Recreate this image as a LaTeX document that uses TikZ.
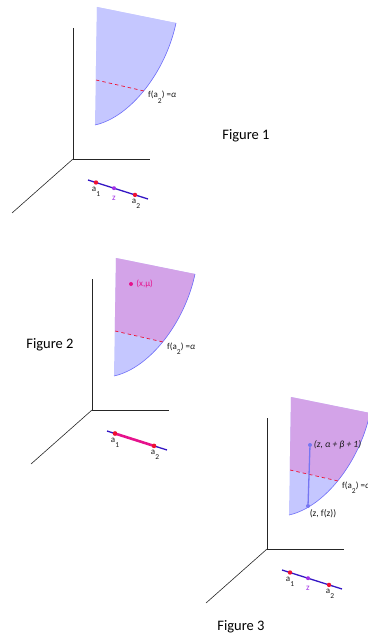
\documentclass[tikz,border=0pt]{standalone}
\usepackage{fontspec}
\setmainfont{Carlito}
\usetikzlibrary{positioning}
\definecolor{sheetblue}{HTML}{C5C7FF}
\definecolor{sheetpurple}{HTML}{D3A3E8}
\definecolor{edgeblue}{HTML}{6E6EF8}
\definecolor{lineindigo}{HTML}{3416C4}
\definecolor{dotred}{HTML}{EE1133}
\definecolor{zpurple}{HTML}{A12EE6}
\definecolor{mumagenta}{HTML}{E6128C}
\definecolor{stickblue}{HTML}{7676F2}
\newcommand{\lowsub}[1]{\raisebox{-1.2ex}{\fontsize{7.5}{8}\selectfont #1}}
\tikzset{
	axesframe/.pic={
			\coordinate (-o) at (0,0);
			\coordinate (-up) at (0,-131);
			\coordinate (-right) at (77,0);
			\coordinate (-diag) at (-61,54);
			\draw[axisline] (-up) -- (-o) -- (-right);
			\draw[axisline] (-o) -- (-diag);
		}
}
\tikzset{
	sheet/.pic={
			\fill[sheetblue] (24,-152) -- (103,-136) .. controls (93,-88) and (58,-42) .. (22,-34) -- cycle;
			\begin{scope}
				\clip (24,-152) -- (103,-136) .. controls (93,-88) and (58,-42) .. (22,-34) -- cycle;
				\fill[#1] (0,-170) -- (130,-170) -- (130,-55) -- (0,-84.3) -- cycle;
			\end{scope}
			\draw[edgeblue, line width=0.6pt] (103,-136) .. controls (93,-88) and (58,-42) .. (22,-34);
			\draw[levelline] (23,-79) -- (71,-68);
			\node[smalltext, anchor=base west] (-lab) at (75,-61) {f(a\lowsub{2}) =\textit{α}};
		}
}
\tikzset{
	axisline/.style={line width=0.6pt, black!85},
	levelline/.style={dashed, dash pattern=on 3.5pt off 3pt, dotred, line width=0.7pt},
	segline/.style={line width=1.3pt, lineindigo},
	reddot/.style={circle, fill=dotred, inner sep=0pt, minimum size=4.4pt},
	zdot/.style={circle, fill=zpurple, inner sep=0pt, minimum size=4pt},
	stickdot/.style={circle, fill=stickblue, inner sep=0pt, minimum size=4pt},
	smalltext/.style={font=\fontsize{9}{10}\selectfont, text=black!90, inner sep=0pt},
	figtext/.style={font=\fontsize{14.5}{16}\selectfont}
}

\begin{document}
\begin{tikzpicture}[x=1pt, y=-1pt]

	\useasboundingbox (0,0) rectangle (367,636);

	% figure 1
	\begin{scope}[shift={(73,159)}]
		\pic (axA) {axesframe};
		\pic (shA) {sheet={sheetblue}};
		\coordinate (sA) at (15,21);
		\coordinate (eA) at (75,40);
		\draw[segline] (sA) -- (eA);
		\node[reddot] (a1A) at (23,23.5) {};
		\node[zdot] (zA) at (41,29.2) {};
		\node[reddot] (a2A) at (62,35.9) {};
		\node[smalltext, below=1.8pt of a1A] (la1A) {a\lowsub{1}};
		\node[smalltext, below=5.5pt of zA, text=zpurple] (lzA) {z};
		\node[smalltext, below=1.8pt of a2A, xshift=1pt] (la2A) {a\lowsub{2}};
	\end{scope}

	% figure 2
	\begin{scope}[shift={(92,410)}]
		\pic (axB) {axesframe};
		\pic (shB) {sheet={sheetpurple}};
		\coordinate (sB) at (15,21);
		\coordinate (eB) at (75,40);
		\draw[segline] (sB) -- (eB);
		\node[reddot] (a1B) at (23,23.5) {};
		\node[reddot] (a2B) at (62,35.9) {};
		\draw[mumagenta, line width=2.6pt] (a1B.center) -- (a2B.center);
		\node[reddot] at (a1B) {};
		\node[reddot] at (a2B) {};
		\node[smalltext, below=1.8pt of a1B] (la1B) {a\lowsub{1}};
		\node[smalltext, below=1.8pt of a2B, xshift=1pt] (la2B) {a\lowsub{2}};
		\node[circle, fill=mumagenta, inner sep=0pt, minimum size=4pt] (ptB) at (39,-126) {};
		\node[smalltext, text=mumagenta, right=3pt of ptB] (lptB) {(x,μ)};
	\end{scope}

	% figure 3
	\begin{scope}[shift={(267,549)}]
		\pic (axC) {axesframe};
		\pic (shC) {sheet={sheetpurple}};
		\coordinate (sC) at (15,21);
		\coordinate (eC) at (75,40);
		\draw[segline] (sC) -- (eC);
		\node[reddot] (a1C) at (23,23.5) {};
		\node[zdot] (zC) at (41,29.2) {};
		\node[reddot] (a2C) at (62,35.9) {};
		\node[smalltext, below=1.8pt of a1C] (la1C) {a\lowsub{1}};
		\node[smalltext, below=5.5pt of zC, text=zpurple] (lzC) {z};
		\node[smalltext, below=1.8pt of a2C, xshift=1pt] (la2C) {a\lowsub{2}};
		\node[stickdot] (zfC) at (41,-43) {};
		\node[stickdot] (ztC) at (43,-104) {};
		\draw[stickblue, line width=1.3pt] (zfC) -- (ztC);
		\node[smalltext, font=\fontsize{9.5}{10}\selectfont\itshape, right=1.5pt of ztC] (lztC) {(z, α + β + 1)};
		\node[smalltext, font=\fontsize{9.5}{10}\selectfont, below right=1.5pt and 0pt of zfC] (lzfC) {(z, f(z))};
	\end{scope}

	\node[figtext] (fig1) at (246,136) {Figure 1};
	\node[figtext] (fig2) at (50,345) {Figure 2};
	\node[figtext] (fig3) at (241,627) {Figure 3};

\end{tikzpicture}
\end{document}
